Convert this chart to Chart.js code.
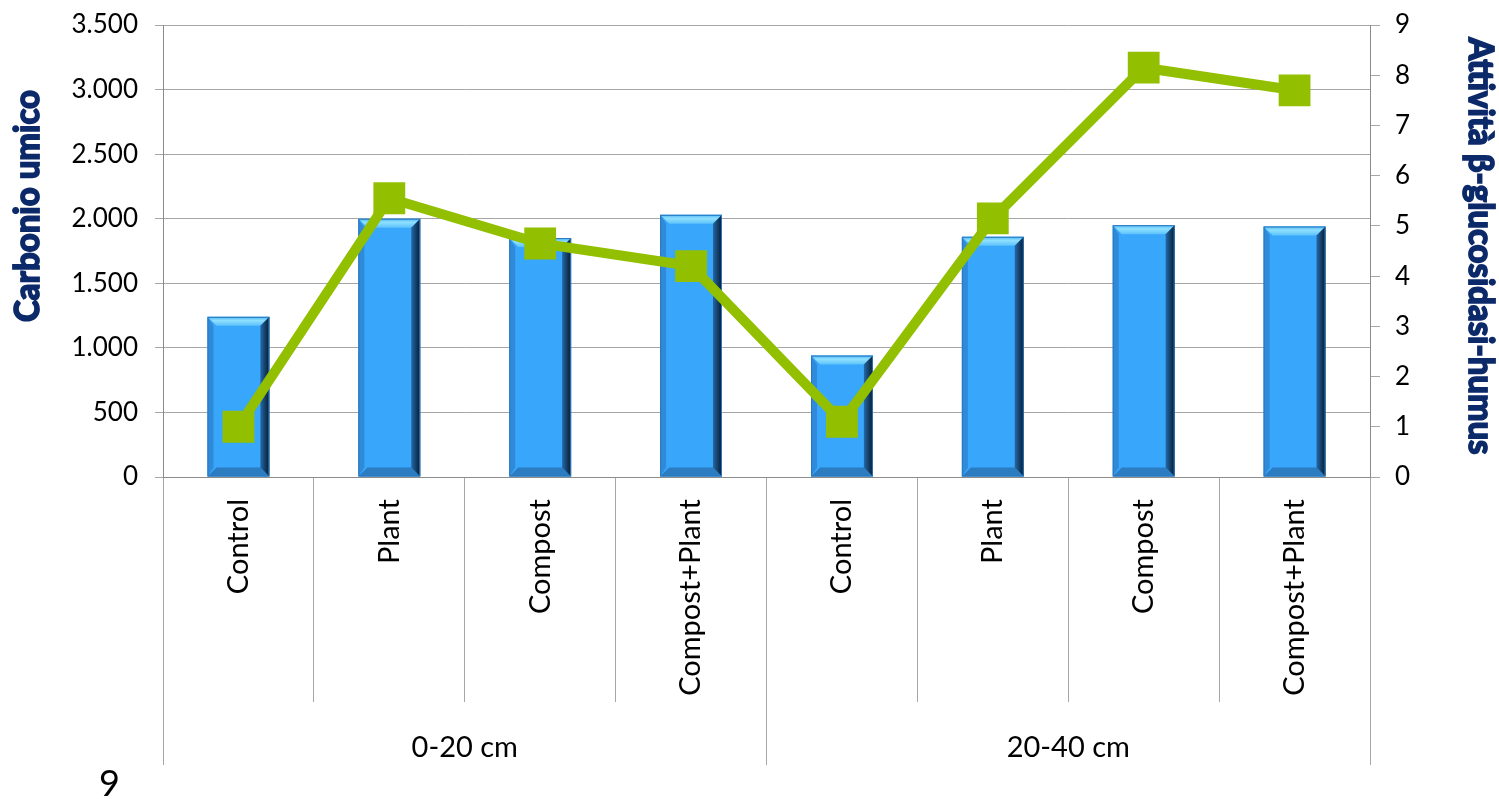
<!DOCTYPE html>
<html>
<head>
<meta charset="utf-8">
<script src="https://cdn.jsdelivr.net/npm/chart.js@4.4.1/dist/chart.umd.min.js"></script>
<style>
html, body { margin: 0; padding: 0; background: #fff; }
#wrap { position: relative; width: 1499px; height: 799px; }
#page { position: absolute; left: 99px; top: 762px; font: 36px Lato, sans-serif; line-height: 40px; color: #000; }
</style>
</head>
<body>
<div id="wrap">
  <canvas id="myChart"></canvas>
  <div id="page">9</div>
</div>
<script>
var treatments = ['Control', 'Plant', 'Compost', 'Compost+Plant', 'Control', 'Plant', 'Compost', 'Compost+Plant'];
var depths = ['0-20 cm', '20-40 cm'];
var carbonio = [1240, 2000, 1850, 2030, 940, 1860, 1950, 1940];
var glucosidasi = [1.0, 5.55, 4.65, 4.2, 1.1, 5.15, 8.15, 7.7];
var leftTitle = 'Carbonio umico';
var rightTitle = 'Attività β-glucosidasi-humus';

var fmtThousands = function(v){
    return String(v).replace(/\B(?=(\d{3})+(?!\d))/g, '.');
}

var face = function(ctx, pts, fill){
    ctx.beginPath();
    ctx.moveTo(pts[0][0], pts[0][1]);
    for (var i = 1; i < pts.length; i++){
        ctx.lineTo(pts[i][0], pts[i][1]);
    }
    ctx.closePath();
    ctx.fillStyle = fill;
    ctx.fill();
}

// bevelled edges on the columns
var bevelPlugin = {
    id: 'bevel',
    afterDatasetDraw: function(chart, args){
        if (args.meta.type !== 'bar') return;
        var ctx = chart.ctx;
        ctx.save();
        args.meta.data.forEach(function(bar){
            var p = bar.getProps(['x', 'y', 'base', 'width'], true);
            var l = p.x - p.width / 2, r = p.x + p.width / 2, t = p.y, b = p.base, e = 9;
            var dark = ctx.createLinearGradient(r - e, 0, r, 0);
            dark.addColorStop(0, '#2469a8');
            dark.addColorStop(1, '#061a30');
            var top = ctx.createLinearGradient(0, t, 0, t + e);
            top.addColorStop(0, '#4fb6f5');
            top.addColorStop(0.4, '#8fe0ff');
            top.addColorStop(1, '#5cc2fb');
            face(ctx, [[l, t], [r, t], [r - e, t + e], [l + e, t + e]], top);
            face(ctx, [[l, b], [r, b], [r - e, b - e], [l + e, b - e]], '#2c7cc2');
            face(ctx, [[l, t], [l + e - 3, t + e], [l + e - 3, b - e], [l, b]], '#2f8bd9');
            face(ctx, [[r, t], [r, b], [r - e, b - e], [r - e, t + e]], dark);
            ctx.strokeStyle = '#2a78be';
            ctx.lineWidth = 1;
            ctx.strokeRect(l + 0.5, t + 0.5, p.width - 1, b - t - 1);
        });
        ctx.restore();
    }
}

// rotated axis titles
var titlePlugin = {
    id: 'axisTitles',
    afterDraw: function(chart){
        var ctx = chart.ctx;
        var drawTitle = function(text, x, y, angle, len){
            ctx.save();
            ctx.translate(x, y);
            ctx.rotate(angle);
            ctx.font = 'bold 34px Lato, sans-serif';
            var w = ctx.measureText(text).width;
            ctx.scale(len / w, 1);
            ctx.fillStyle = '#0c2a6a';
            ctx.strokeStyle = '#0c2a6a';
            ctx.lineWidth = 1.8;
            ctx.textAlign = 'center';
            ctx.textBaseline = 'middle';
            ctx.fillText(text, 0, 0);
            ctx.strokeText(text, 0, 0);
            ctx.restore();
        }
        drawTitle(leftTitle, 28, 206, -Math.PI / 2, 232);
        drawTitle(rightTitle, 1480, 246, Math.PI / 2, 417);
    }
}

var ctx = document.getElementById('myChart');
var myChart = new Chart(ctx, {
    data: {
        labels: treatments,
        datasets: [{
            type: 'line',
            label: rightTitle,
            data: glucosidasi,
            yAxisID: 'y1',
            xAxisID: 'x',
            borderColor: '#92c000',
            backgroundColor: '#92c000',
            borderWidth: 10,
            pointStyle: 'rect',
            pointRadius: 22.5,
            pointBorderWidth: 0,
            pointBackgroundColor: '#92c000',
            tension: 0,
            order: 1
        }, {
            type: 'bar',
            label: leftTitle,
            data: carbonio,
            yAxisID: 'y',
            xAxisID: 'x',
            backgroundColor: '#38a6fa',
            borderWidth: 0,
            barPercentage: 0.41,
            categoryPercentage: 1,
            order: 2
        }]
    },
    options: {
        responsive: true,
        maintainAspectRatio: false,
        animation: false,
        layout: { padding: { top: 25, bottom: 34, left: 0, right: 0 } },
        plugins: { legend: { display: false }, tooltip: { enabled: false } },
        scales: {
            x: {
                type: 'category',
                position: 'bottom',
                offset: true,
                weight: 0,
                grid: { offset: true, drawOnChartArea: false, tickLength: 225, color: '#a6a6a6' },
                border: { display: true, color: '#8c8c8c' },
                ticks: {
                    autoSkip: false, minRotation: 90, maxRotation: 90,
                    padding: -203,
                    color: '#000',
                    font: { family: 'Lato', size: 29 }
                },
                afterFit: function(scale){ scale.height = 225; }
            },
            x2: {
                type: 'category',
                position: 'bottom',
                labels: depths,
                offset: true,
                weight: 1,
                grid: { offset: true, drawOnChartArea: false, tickLength: 63, color: '#a6a6a6' },
                border: { display: false },
                ticks: {
                    padding: -35,
                    color: '#000',
                    font: { family: 'Lato', size: 29 }
                },
                afterFit: function(scale){ scale.height = 63; }
            },
            y: {
                position: 'left',
                min: 0,
                max: 3500,
                ticks: {
                    stepSize: 500,
                    padding: 17,
                    color: '#000',
                    font: { family: 'Lato', size: 26 },
                    callback: function(v){ return fmtThousands(v); }
                },
                grid: { color: '#a6a6a6', tickLength: 8 },
                border: { color: '#8c8c8c' },
                afterFit: function(scale){
                    scale.width = 163;
                    scale.paddingTop = 0;
                    scale.paddingBottom = 0;
                }
            },
            y1: {
                position: 'right',
                min: 0,
                max: 9,
                ticks: {
                    stepSize: 1,
                    padding: 15,
                    color: '#000',
                    font: { family: 'Lato', size: 26 }
                },
                grid: { drawOnChartArea: false, color: '#a6a6a6', tickLength: 10 },
                border: { color: '#8c8c8c' },
                afterFit: function(scale){
                    scale.width = 129;
                    scale.paddingTop = 0;
                    scale.paddingBottom = 0;
                }
            }
        }
    },
    plugins: [bevelPlugin, titlePlugin]
});
</script>
</body>
</html>
